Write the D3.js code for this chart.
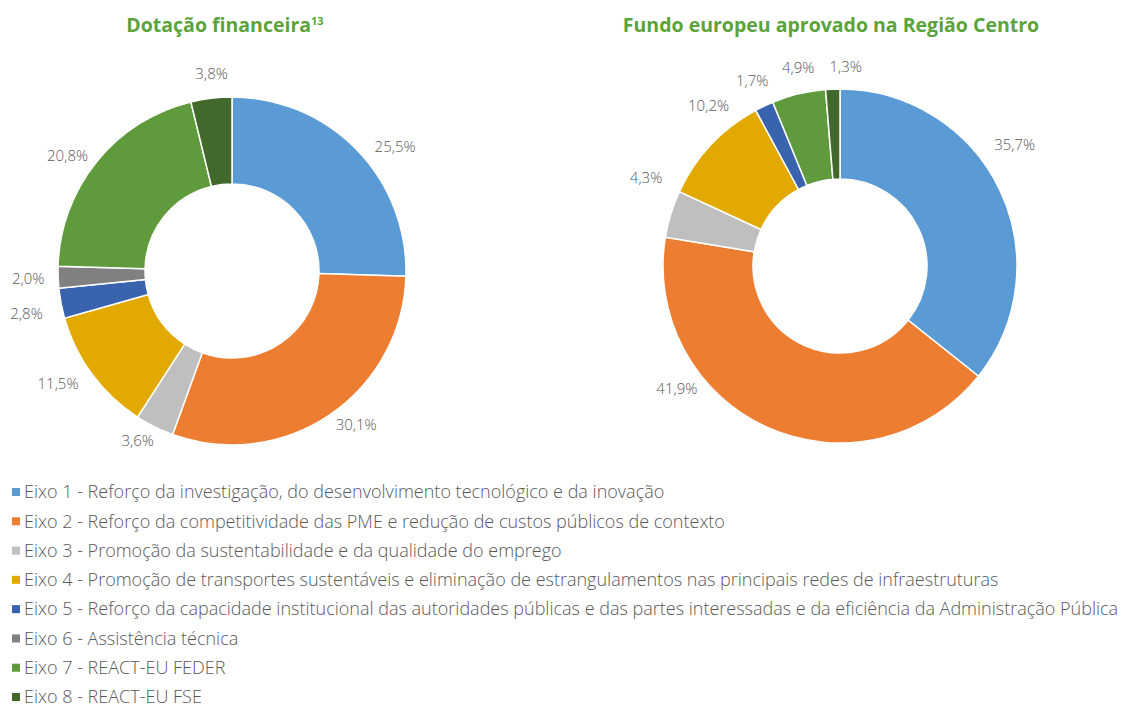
<!DOCTYPE html>
<html><head><meta charset="utf-8">
<script src="https://cdn.jsdelivr.net/npm/d3@7"></script>
<style>
body{margin:0;background:#fff;}
svg{display:block;}
</style></head>
<body>
<svg id="c" width="1122" height="706"></svg>
<script>
const categories = [
  "Eixo 1 - Reforço da investigação, do desenvolvimento tecnológico e da inovação",
  "Eixo 2 - Reforço da competitividade das PME e redução de custos públicos de contexto",
  "Eixo 3 - Promoção da sustentabilidade e da qualidade do emprego",
  "Eixo 4 - Promoção de transportes sustentáveis e eliminação de estrangulamentos nas principais redes de infraestruturas",
  "Eixo 5 - Reforço da capacidade institucional das autoridades públicas e das partes interessadas e da eficiência da Administração Pública",
  "Eixo 6 - Assistência técnica",
  "Eixo 7 - REACT-EU FEDER",
  "Eixo 8 - REACT-EU FSE"
];
const colors = ["#5B9BD5","#ED7D31","#BFBFBF","#E2AA00","#3A63AE","#808080","#5F9A3C","#43682B"];
const dotacao = [25.5, 30.1, 3.6, 11.5, 2.8, 2.0, 20.8, 3.8];
const fundo = [35.7, 41.9, 4.3, 10.2, 1.7, 0, 4.9, 1.3];
const titles = ["Dotação financeira", "Fundo europeu aprovado na Região Centro"];

// manual label nudges (styling, as in the original layout)
const nudgeLeft  = [[16,19],[9,-16],[-3,-14],[-9,-9],[-4,5],[1,0],[-5,14],[4,6]];
const nudgeRight = [[-10,-32],[-80,-65],[2,-28],[18,-20],[0,0],[0,0],[6,1],[14,6]];

const svg = d3.select("#c");
const font = "'Open Sans', sans-serif";
const fmt = v => d3.format(".1f")(v).replace(".", ",") + "%";

function donut(values, cx, cy, r, ri, nudge) {
  const data = values.map((v, i) => ({v, i}));
  const pie = d3.pie().value(d => d.v).sort(null);
  const arcs = pie(data);
  const arc = d3.arc().innerRadius(ri).outerRadius(r);
  const g = svg.append("g").attr("transform", `translate(${cx},${cy})`);
  g.selectAll("path").data(arcs.filter(a => a.data.v > 0)).join("path")
    .attr("d", arc)
    .attr("fill", d => colors[d.data.i])
    .attr("stroke", "#fff").attr("stroke-width", 1.5);
  const lr = 205;
  const labelArc = d3.arc().innerRadius(lr).outerRadius(lr);
  g.selectAll("text").data(arcs.filter(a => a.data.v > 0)).join("text")
    .attr("transform", d => {
      const [x, y] = labelArc.centroid(d);
      const n = nudge[d.data.i];
      return `translate(${x + n[0]},${y + n[1]})`;
    })
    .attr("text-anchor", "middle")
    .attr("dy", "0.35em")
    .attr("font-family", font).attr("font-weight", 300)
    .attr("font-size", 15).attr("fill", "#595959")
    .text(d => fmt(d.data.v));
}

donut(dotacao, 232, 271, 174, 87, nudgeLeft);
donut(fundo, 840, 266, 177, 87, nudgeRight);

// titles
const t1 = svg.append("text").attr("x", 225).attr("y", 32).attr("text-anchor", "middle")
  .attr("font-family", font).attr("font-weight", 700).attr("font-size", 19.5)
  .attr("fill", "#5BA33B");
t1.append("tspan").text(titles[0]);
t1.append("tspan").attr("font-size", 11).attr("dy", -7).text("13");
svg.append("text").attr("x", 831).attr("y", 32).attr("text-anchor", "middle")
  .attr("font-family", font).attr("font-weight", 700).attr("font-size", 19.5)
  .attr("fill", "#5BA33B")
  .text(titles[1]);

// legend
const ly = d3.scalePoint().domain(d3.range(categories.length)).range([492, 697]);
const lg = svg.append("g");
categories.forEach((c, i) => {
  lg.append("rect").attr("x", 12).attr("y", ly(i) - 4).attr("width", 8).attr("height", 8)
    .attr("fill", colors[i]);
  lg.append("text").attr("x", 24).attr("y", ly(i)).attr("dy", "0.35em")
    .attr("font-family", font).attr("font-weight", 300).attr("font-size", 18)
    .attr("fill", "#595959").text(c);
});
</script>
</body></html>
